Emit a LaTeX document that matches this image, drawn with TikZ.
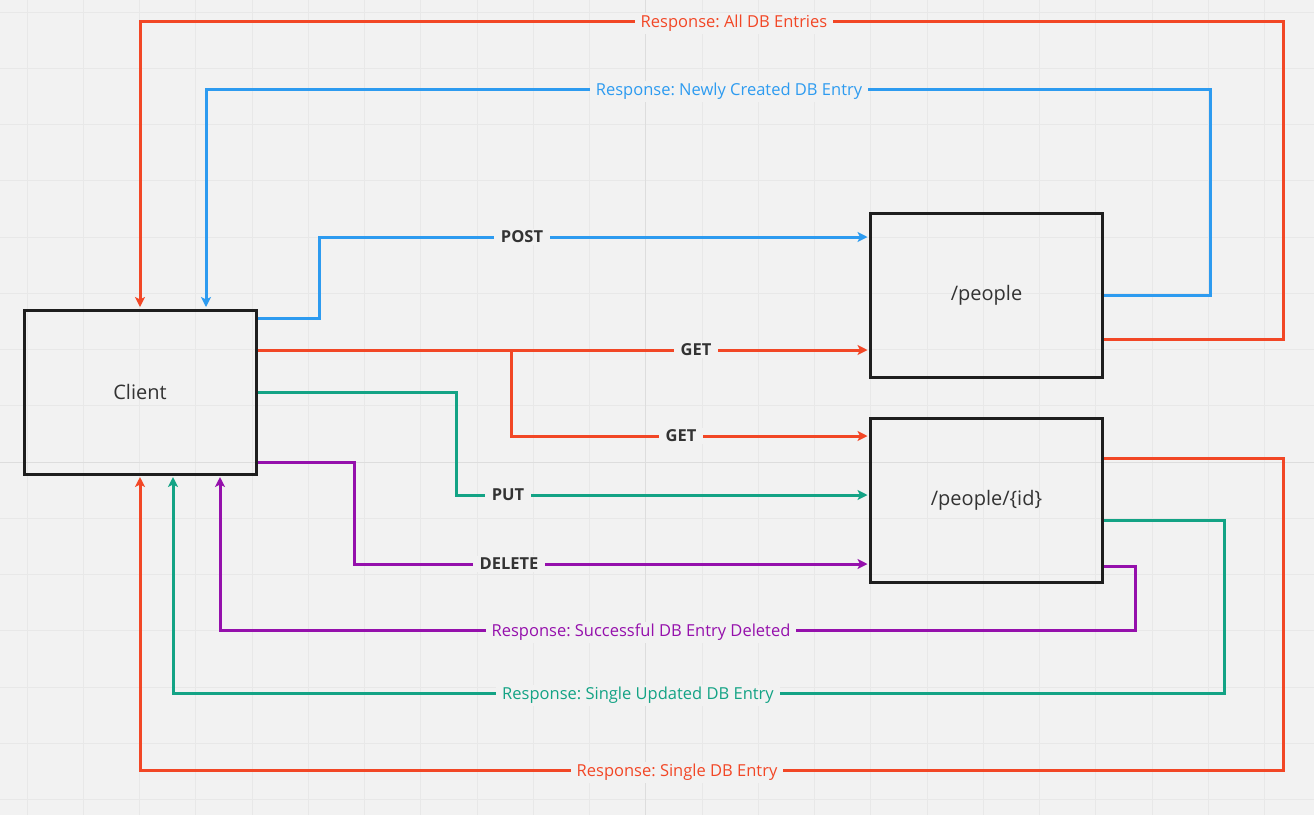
\documentclass[tikz,border=0pt]{standalone}
\usepackage{fontspec}
\setmainfont{Open Sans}
\usetikzlibrary{arrows.meta}
\frenchspacing
\definecolor{bg}{HTML}{F2F2F2}
\definecolor{gridc}{HTML}{E8E8E8}
\definecolor{gridd}{HTML}{DDDDDD}
\definecolor{mred}{HTML}{F24726}
\definecolor{mblue}{HTML}{2D9BF0}
\definecolor{mgreen}{HTML}{13A385}
\definecolor{mpurple}{HTML}{9510AC}
\definecolor{boxc}{HTML}{1E1E1E}
\definecolor{txt}{HTML}{333333}
\tikzset{
  box/.style={draw=boxc, line width=3pt, rectangle, minimum width=232pt, minimum height=164pt, inner sep=0pt, font=\fontsize{20}{22}\selectfont, text=txt},
  conn/.style={line width=3pt, rounded corners=0pt, -{Stealth[length=10pt,width=10pt,inset=2.5pt]}, shorten >=1.5pt},
  conn red/.style={conn, draw=mred},
  conn blue/.style={conn, draw=mblue},
  conn green/.style={conn, draw=mgreen},
  conn purple/.style={conn, draw=mpurple},
  reqlabel/.style={fill=bg, inner xsep=7pt, inner ysep=2pt, font=\fontsize{16.5}{18}\selectfont\bfseries, text=txt},
  resplabel/.style={fill=bg, inner xsep=6pt, inner ysep=2pt, yshift=-2.5pt, font=\fontsize{16.5}{18}\selectfont},
}
\begin{document}
\begin{tikzpicture}[x=1pt,y=-1pt]
\useasboundingbox (0,0) rectangle (1314,815);
\fill[bg] (0,0) rectangle (1314,815);
% grid
\foreach \i in {0,...,23} {
  \draw[gridc, line width=1pt] ({27+\i*56.25},0) -- ({27+\i*56.25},815);
}
\foreach \j in {0,...,14} {
  \draw[gridc, line width=1pt] (0,{12+\j*56.25}) -- (1314,{12+\j*56.25});
}
\draw[gridd, line width=1pt] (645.75,0) -- (645.75,815);
\draw[gridd, line width=1pt] (0,462) -- (1314,462);

% boxes
\node[box] (client) at (140,392) {Client};
\node[box] (people) at (986.5,295.5) {/people};
\node[box] (peopleid) at (986.5,500) {/people/\{id\}};

% requests
\draw[conn blue] (client.east |- 0,318) -| (319,237) -- (people.west |- 0,237);
\draw[conn red] (client.east |- 0,350) -- (people.west |- 0,350);
\draw[conn red] (client.east |- 0,350) -| (511,436) -- (peopleid.west |- 0,436);
\draw[conn green] (client.east |- 0,392) -| (456,495) -- (peopleid.west |- 0,495);
\draw[conn purple] (client.east |- 0,462) -| (354,564) -- (peopleid.west |- 0,564);

% responses
\draw[conn red] (people.east |- 0,339) -| (1283,21) -| (client.north);
\draw[conn blue] (people.east) -| (1210,89) -| (client.north -| 206,0);
\draw[conn purple] (peopleid.east |- 0,566) -| (1135,630) -| (client.south -| 220,0);
\draw[conn green] (peopleid.east |- 0,520) -| (1224,693) -| (client.south -| 173,0);
\draw[conn red] (peopleid.east |- 0,458) -| (1283,770) -| (client.south);

% labels
\node[reqlabel] (lpost) at (522,237) {POST};
\node[reqlabel] (lget1) at (696,350) {GET};
\node[reqlabel] (lget2) at (681,436) {GET};
\node[reqlabel] (lput) at (508,495) {PUT};
\node[reqlabel] (ldel) at (509,564) {DELETE};
\node[resplabel, text=mred] (rall) at (734,21) {Response: All DB Entries};
\node[resplabel, text=mblue] (rnew) at (729,89) {Response: Newly Created DB Entry};
\node[resplabel, text=mpurple] (rdel) at (641,630) {Response: Successful DB Entry Deleted};
\node[resplabel, text=mgreen] (rupd) at (638,693) {Response: Single Updated DB Entry};
\node[resplabel, text=mred] (rsingle) at (677,770) {Response: Single DB Entry};
\end{tikzpicture}
\end{document}
